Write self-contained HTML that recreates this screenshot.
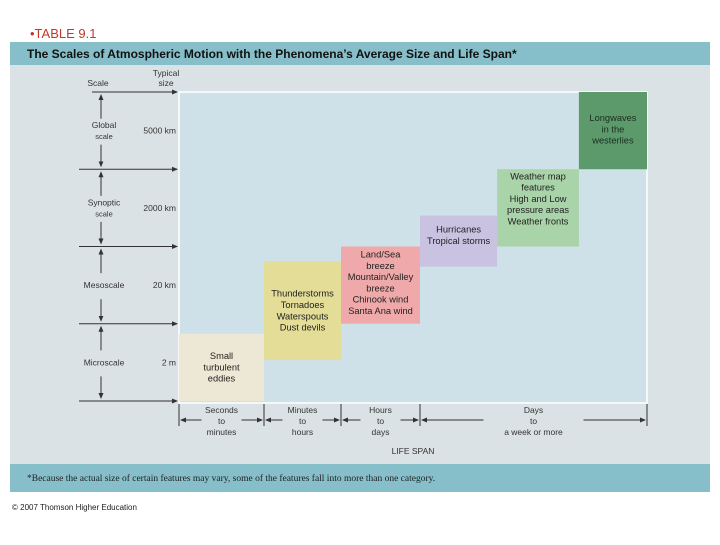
<!DOCTYPE html>
<html><head><meta charset="utf-8"><style>
body{margin:0;width:720px;height:540px;background:#fff;overflow:hidden;font-family:"Liberation Sans",sans-serif}
</style></head><body>
<svg width="720" height="540" viewBox="0 0 720 540" font-family="Liberation Sans, sans-serif">
<text x="30" y="38" font-size="13" fill="#c0392b">•TABLE 9.1</text>
<rect x="10" y="42" width="700" height="23" fill="#86bfca"/>
<text x="27" y="58" font-size="12" font-weight="bold" fill="#111">The Scales of Atmospheric Motion with the Phenomena’s Average Size and Life Span*</text>
<rect x="10" y="65" width="700" height="399" fill="#dbe2e5"/>
<rect x="10" y="464" width="700" height="28" fill="#86bfca"/>
<text x="27" y="481" font-size="9.5" font-family="Liberation Serif, serif" fill="#222">*Because the actual size of certain features may vary, some of the features fall into more than one category.</text>
<text x="12" y="510" font-size="8" fill="#222">© 2007 Thomson Higher Education</text>
<rect x="179" y="92" width="468" height="311" fill="#cfe1e8" stroke="#fff" stroke-width="1.5"/>
<text x="98" y="86" font-size="8.5" fill="#333" text-anchor="middle">Scale</text>
<text x="166" y="76" font-size="8.5" fill="#333" text-anchor="middle">Typical</text>
<text x="166" y="86" font-size="8.5" fill="#333" text-anchor="middle">size</text>
<g id="yaxis"></g>
<g id="boxes"></g>
<g id="xaxis"></g>
<text x="413" y="454" font-size="8.5" fill="#333" text-anchor="middle">LIFE SPAN</text>
<defs><marker id="ah" markerWidth="6" markerHeight="6" refX="5" refY="3" orient="auto"><path d="M0,0.5L6,3L0,5.5z" fill="#333"/></marker></defs>
</svg>
<script>
const NS='http://www.w3.org/2000/svg';
// Scale bands (bottom to top)
const scaleNames=[['Microscale'],['Mesoscale'],['Synoptic','scale'],['Global','scale']];
const scaleSizes=['2 m','20 km','2000 km','5000 km'];
// Life span bands
const spanLabels=[['Seconds','to','minutes'],['Minutes','to','hours'],['Hours','to','days'],['Days','to','a week or more']];
const spanEdges=[179,264,341,420,647]; // pixel edges of life-span bands (axis definition)
// Phenomena boxes: span start/end (band units), scale start/end (band units)
const boxNames=['eddies','thunderstorms','land-sea-breeze','hurricanes','weather-map','longwaves'];
const boxSpanStart=[0,1,2,3,3.34,3.7];
const boxSpanEnd=[1,2,3,3.34,3.7,4];
const boxScaleStart=[0,0.53,1,1.74,2,3];
const boxScaleEnd=[0.87,1.81,2,2.4,3,4];
const boxColors=['#ede8d6','#e3dd98','#f0a9aa','#c9c2e0','#a9d3a8','#5d9a6b'];
const boxText=[['Small','turbulent','eddies'],['Thunderstorms','Tornadoes','Waterspouts','Dust devils'],['Land/Sea','breeze','Mountain/Valley','breeze','Chinook wind','Santa Ana wind'],['Hurricanes','Tropical storms'],['Weather map','features','High and Low','pressure areas','Weather fronts'],['Longwaves','in the','westerlies']];
const boxTextAnchor=['mid','mid','top','top','top','top'];
const boxTextOffset=[0,0,11,17,10,29];
function X(v){const i=Math.min(Math.floor(v),3);return spanEdges[i]+(v-i)*(spanEdges[i+1]-spanEdges[i]);}
function Y(v){return 401-v*77.25;}
function el(t,a,p){const e=document.createElementNS(NS,t);for(const k in a)e.setAttribute(k,a[k]);p.appendChild(e);return e;}
const ya=document.getElementById('yaxis');
for(let i=0;i<=4;i++){
 const l=el('line',{x1:i==4?92:79,y1:Y(i),x2:177,y2:Y(i),stroke:'#333','stroke-width':1,'marker-end':'url(#ah)'},ya);
 
 
}
for(let i=0;i<4;i++){
 const yc=(Y(i)+Y(i+1))/2;
 const a1=el('line',{x1:101,y1:yc-12,x2:101,y2:Y(i+1)+3,stroke:'#333','marker-end':'url(#ah)'},ya);
 
 const a2=el('line',{x1:101,y1:yc+14,x2:101,y2:Y(i)-3,stroke:'#333','marker-end':'url(#ah)'},ya);
 
 const n=scaleNames[i];
 n.forEach((s,j)=>{const t=el('text',{x:104,y:yc+3+(j-(n.length-1)/2)*11,'font-size':j?7.5:8.5,fill:'#333','text-anchor':'middle'},ya);t.textContent=s;
 });
 const t=el('text',{x:176,y:yc+3,'font-size':8.5,fill:'#333','text-anchor':'end'},ya);t.textContent=scaleSizes[i];
 
}
const bx=document.getElementById('boxes');
for(let i=0;i<boxNames.length;i++){
 const x0=X(boxSpanStart[i]),x1=X(boxSpanEnd[i]),y0=Y(boxScaleEnd[i]),y1=Y(boxScaleStart[i]);
 const r=el('rect',{x:x0,y:y0,width:x1-x0,height:y1-y0,fill:boxColors[i]},bx);
 
 
 const lines=boxText[i];const lh=11.3;
 const start=boxTextAnchor[i]=='mid'?(y0+y1)/2-(lines.length-1)*lh/2+3:y0+boxTextOffset[i];
 lines.forEach((s,j)=>{const t=el('text',{x:(x0+x1)/2,y:start+j*lh,'font-size':9.3,fill:i==5?'#1b2e20':'#222','text-anchor':'middle'},bx);t.textContent=s;
 });
}
const xa=document.getElementById('xaxis');
spanEdges.forEach((x,i)=>{const l=el('line',{x1:x,y1:404,x2:x,y2:426,stroke:'#333'},xa);
 });
for(let i=0;i<4;i++){
 const x0=X(i),x1=X(i+1),xc=(x0+x1)/2,w=i==3?50:20;
 const a=el('line',{x1:xc-w,y1:420,x2:x0+2,y2:420,stroke:'#333','marker-end':'url(#ah)'},xa);
 
 const b=el('line',{x1:xc+w,y1:420,x2:x1-2,y2:420,stroke:'#333','marker-end':'url(#ah)'},xa);
 
 spanLabels[i].forEach((s,j)=>{const t=el('text',{x:xc,y:413+j*11,'font-size':8.5,fill:'#333','text-anchor':'middle'},xa);t.textContent=s;
 });
}
</script>
</body></html>
